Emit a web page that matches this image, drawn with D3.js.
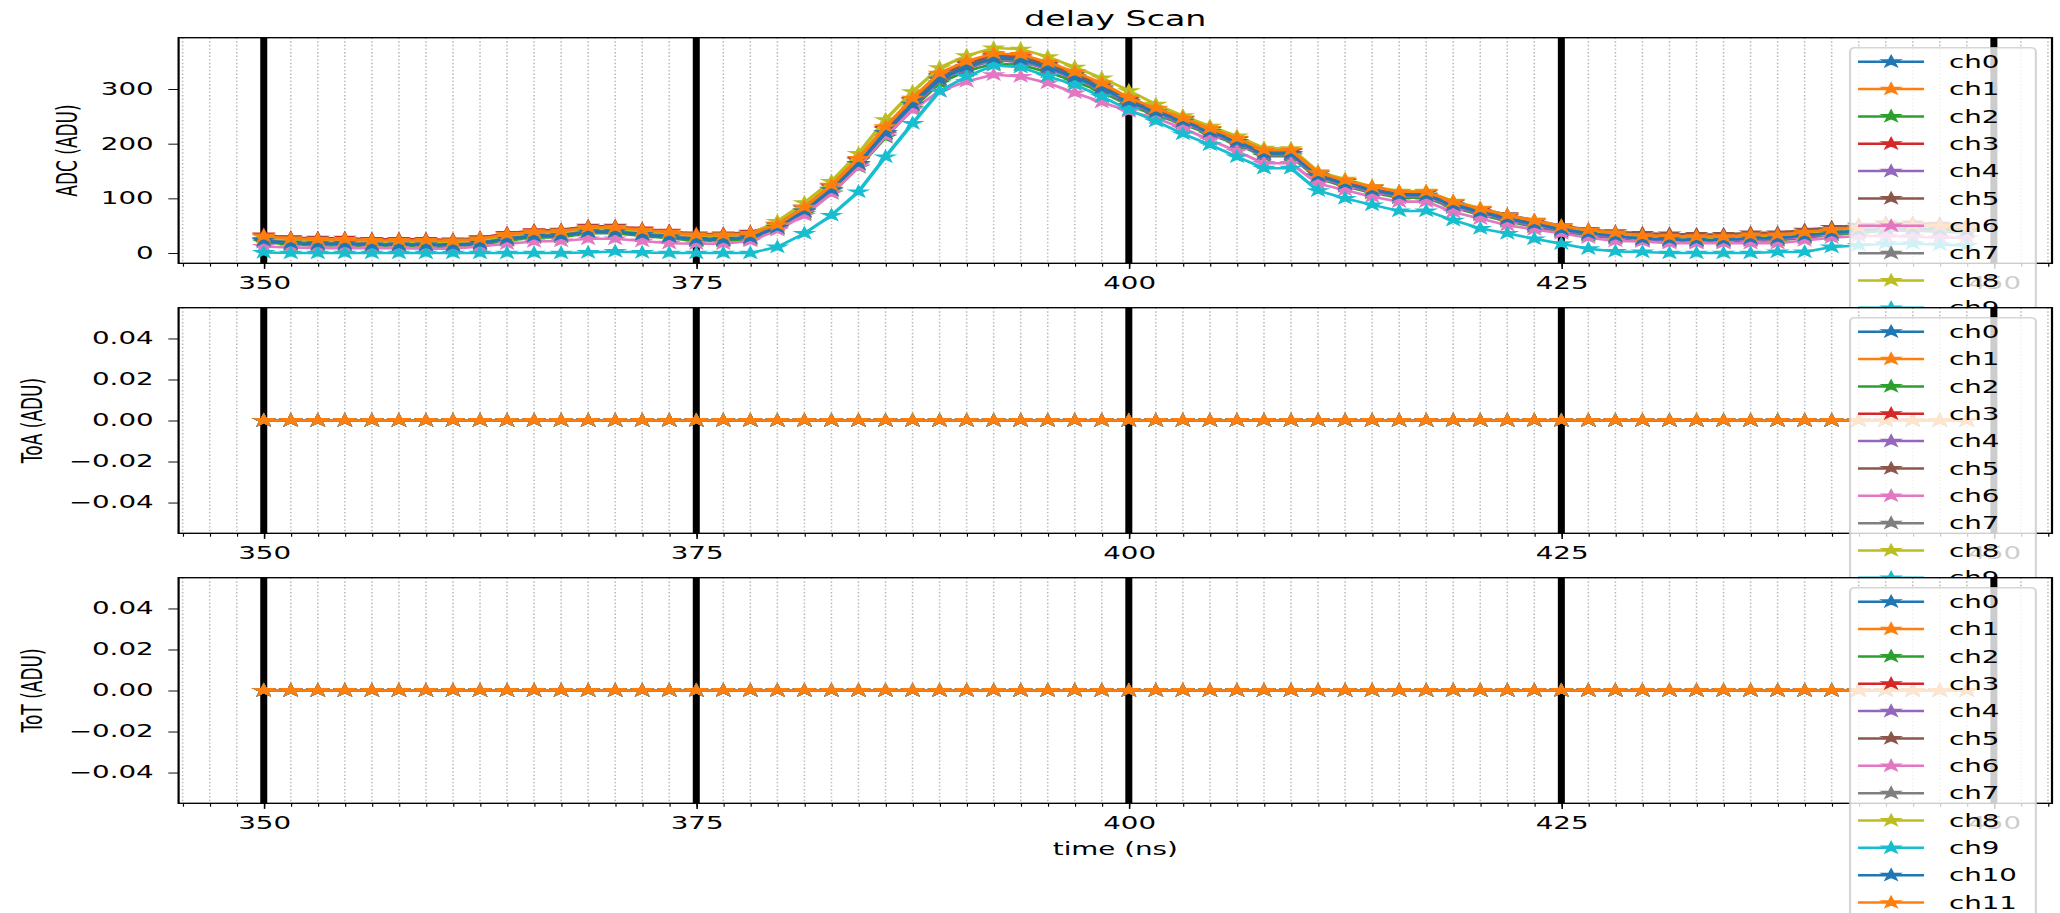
<!DOCTYPE html>
<html>
<head>
<meta charset="utf-8">
<script src="https://cdn.jsdelivr.net/npm/d3@7"></script>
<style>html,body{margin:0;padding:0;background:#fff;overflow:hidden}</style>
</head>
<body>
<svg id="chart" width="2060" height="913"></svg>
<script>
// ---------------- data ----------------
const times = [350, 351.5625, 353.125, 354.6875, 356.25, 357.8125, 359.375, 360.9375, 362.5, 364.0625, 365.625, 367.1875, 368.75, 370.3125, 371.875, 373.4375,
  375, 376.5625, 378.125, 379.6875, 381.25, 382.8125, 384.375, 385.9375, 387.5, 389.0625, 390.625, 392.1875, 393.75, 395.3125, 396.875, 398.4375,
  400, 401.5625, 403.125, 404.6875, 406.25, 407.8125, 409.375, 410.9375, 412.5, 414.0625, 415.625, 417.1875, 418.75, 420.3125, 421.875, 423.4375,
  425, 426.5625, 428.125, 429.6875, 431.25, 432.8125, 434.375, 435.9375, 437.5, 439.0625, 440.625, 442.1875, 443.75, 445.3125, 446.875, 448.4375];

const channels = ["ch0","ch1","ch2","ch3","ch4","ch5","ch6","ch7","ch8","ch9","ch10","ch11"];
const colors = ["#1f77b4","#ff7f0e","#2ca02c","#d62728","#9467bd","#8c564b","#e377c2","#7f7f7f","#bcbd22","#17becf","#1f77b4","#ff7f0e"];

const adcCh0 = [22,17,16,16,14,14,14,13,17,25,30,31,38,38,33,29,24,24,27, 46,76,115,163,219,271,317,340,354,352,339,321,301,276,257, 240,221,203,181,181,140,126,114,105,105,87,74,62,52,43,36,31, 26,25,24,24,27,27,32,37,41,45,45,43,41];
const adcCh1 = [30,25,24,24,22,22,22,21,25,33,38,39,46,46,41,37,32,32,35, 51,83,123,172,229,281,327,349,363,361,347,329,309,282,263, 246,227,209,187,187,146,132,120,111,111,93,80,68,58,48,41,36, 31,30,29,29,32,32,37,42,46,50,50,48,46];
const adcCh2 = [20,15,14,14,12,12,12,11,15,23,28,29,36,36,31,27,22,22,25, 44,72,110,157,212,265,311,333,346,344,331,314,295,270,252, 236,217,199,177,177,136,122,110,101,101,83,70,58,48,39,32,27, 22,21,20,20,23,23,28,33,37,41,41,39,37];
const adcCh3 = [33,28,27,27,25,25,25,24,28,36,41,42,49,49,44,40,35,35,38, 53,84,123,171,228,280,325,348,361,359,346,328,308,282,263, 245,226,208,186,186,145,131,119,110,110,92,79,67,57,47,40,35, 31,30,29,29,32,32,37,42,46,50,50,48,46];
const adcCh4 = [24,19,18,18,16,16,16,15,19,27,32,33,40,40,35,31,26,26,29, 46,75,114,161,217,269,316,338,352,350,337,319,299,274,255, 238,219,201,179,179,138,124,112,103,103,85,72,60,50,41,34,29, 24,23,22,22,25,25,30,35,39,43,43,41,39];
const adcCh5 = [32,27,26,25,24,24,24,23,27,35,40,41,48,48,43,39,34,34,37, 51,82,121,169,226,278,323,346,359,357,344,326,306,280,261, 246,227,209,187,187,146,133,121,112,112,94,81,70,60,50,43,39, 36,35,34,34,37,37,42,47,51,55,55,53,51];
const adcCh6 = [12,10,9,9,9,9,8,8,12,17,21,22,26,26,22,18,17,17,22, 42,69,109,158,214,262,296,314,326,323,311,293,276,259,247, 228,207,186,164,164,127,115,103,94,94,75,63,51,43,36,28,22, 21,18,18,18,18,18,23,28,31,31,30,28,28];
const adcCh7 = [25,20,19,19,17,17,17,16,20,28,33,34,41,41,36,32,27,27,30, 48,78,117,164,220,272,319,341,355,353,340,322,302,277,258, 241,222,204,182,182,141,127,115,106,106,88,75,63,53,44,37,32, 27,26,25,25,28,28,33,38,42,46,46,44,42];
const adcCh8 = [29,24,23,23,21,21,21,20,24,32,37,38,45,45,40,36,31,31,35, 58,92,131,182,244,295,339,361,375,373,359,340,320,297,272, 251,232,214,192,191,149,135,122,113,113,95,82,69,59,49,41,35, 29,28,27,27,30,30,35,40,44,48,48,46,44];
const adcCh9 = [1,0,0,0,0,0,0,0,0,0,0,0,1,3,1,0,0,0,0, 11,36,69,112,176,237,296,323,343,340,323,308,286,262,241, 218,198,176,155,155,114,100,88,77,77,60,45,36,26,17,8,3, 2,0,0,0,0,2,2,11,14,17,17,15,14];
const adcCh10 = [23,18,17,17,15,15,15,14,18,26,31,32,39,39,34,30,25,25,28, 47,77,116,164,220,272,318,341,356,354,340,322,302,277,258, 241,222,204,182,182,141,127,115,106,106,88,75,63,53,43,36,31, 26,25,24,24,27,27,32,37,41,45,45,43,41];
const adcCh11 = [31,26,25,25,23,23,23,22,26,34,39,40,47,47,42,38,33,33,36, 52,84,124,173,231,283,329,351,365,363,349,331,311,284,265, 247,228,210,188,188,147,133,121,112,112,94,81,69,59,49,42,37, 32,31,30,30,33,33,38,43,47,51,51,49,47];

const toaValues = [0,0,0,0,0,0,0,0,0,0,0,0,0,0,0,0, 0,0,0,0,0,0,0,0,0,0,0,0,0,0,0,0, 0,0,0,0,0,0,0,0,0,0,0,0,0,0,0,0, 0,0,0,0,0,0,0,0,0,0,0,0,0,0,0,0];
const totValues = [0,0,0,0,0,0,0,0,0,0,0,0,0,0,0,0, 0,0,0,0,0,0,0,0,0,0,0,0,0,0,0,0, 0,0,0,0,0,0,0,0,0,0,0,0,0,0,0,0, 0,0,0,0,0,0,0,0,0,0,0,0,0,0,0,0];

const xMajorTicks = [350, 375, 400, 425, 450];
const xMinorStep = 1.5625;
const adcTicks = [0, 100, 200, 300];
const toaTicks = [-0.04, -0.02, 0, 0.02, 0.04];
const totTicks = [-0.04, -0.02, 0, 0.02, 0.04];
const yLabels = ["ADC (ADU)", "ToA (ADU)", "ToT (ADU)"];
const titleText = "delay Scan";
const xLabelText = "time (ns)";

// ---------------- layout ----------------
const W = 2060, H = 913;
const SX = 1.63;              // horizontal stretch of the original figure
const VW = W / SX;
const PT = 1.69;              // px per point (vertical)
const FONT = "DejaVu Sans";
const FS = 17;
const axLeft = 178.6 / SX, axRight = 2052 / SX;
const panelTops = [37.7, 307.7, 577.7];
const panelH = 225.6;

const svg = d3.select("#chart")
  .attr("viewBox", `0 0 ${VW} ${H}`)
  .attr("preserveAspectRatio", "none");
svg.append("rect").attr("width", VW).attr("height", H).attr("fill", "#fff");

const xr = d3.max(times) - d3.min(times);
const xs = d3.scaleLinear()
  .domain([d3.min(times) - 0.05 * xr, d3.max(times) + 0.05 * xr])
  .range([axLeft, axRight]);
const [xd0, xd1] = xs.domain();
const minorTicks = d3.range(-4, 70).map(n => 350 + n * xMinorStep).filter(v => v >= xd0 && v <= xd1);
const majorTicks = xMajorTicks.filter(v => v >= xd0 && v <= xd1);

const adcSeries = [adcCh0, adcCh1, adcCh2, adcCh3, adcCh4, adcCh5, adcCh6, adcCh7, adcCh8, adcCh9, adcCh10, adcCh11];
const toaSeries = channels.map(() => toaValues);
const totSeries = channels.map(() => totValues);

const panels = [
  {series: adcSeries, ticks: adcTicks, fmt: d3.format("d"), label: yLabels[0], labelX: 47.5},
  {series: toaSeries, ticks: toaTicks, fmt: d3.format(".2f"), label: yLabels[1], labelX: 26},
  {series: totSeries, ticks: totTicks, fmt: d3.format(".2f"), label: yLabels[2], labelX: 26}
];

const star = d3.symbol(d3.symbolStar, (3 * PT) * (3 * PT) / 0.8908130915292852);
const markerEdge = 1.0 * PT;

panels.forEach((p, pi) => {
  const top = panelTops[pi], bottom = top + panelH;
  const all = p.series.flat();
  let lo = d3.min(all), hi = d3.max(all);
  if (lo === hi) { lo -= 0.05; hi += 0.05; }
  const yr = hi - lo;
  const ys = d3.scaleLinear().domain([lo - 0.05 * yr, hi + 0.05 * yr]).range([bottom, top]);

  const g = svg.append("g");
  g.append("rect").attr("x", axLeft).attr("y", top).attr("width", axRight - axLeft).attr("height", panelH).attr("fill", "#fff");

  // minor dotted grid
  g.append("g").selectAll("line").data(minorTicks).join("line")
    .attr("x1", d => xs(d)).attr("x2", d => xs(d)).attr("y1", top).attr("y2", bottom)
    .attr("stroke", "#b8b8b8").attr("stroke-width", 0.8 * PT * 0.7)
    .attr("stroke-dasharray", `${0.8 * PT} ${1.32 * PT}`);
  // major thick grid
  g.append("g").selectAll("line").data(majorTicks).join("line")
    .attr("x1", d => xs(d)).attr("x2", d => xs(d)).attr("y1", top).attr("y2", bottom)
    .attr("stroke", "#000").attr("stroke-width", 4.3);

  // series
  const line = d3.line().x((d, i) => xs(times[i])).y(d => ys(d));
  p.series.forEach((vals, ci) => {
    const cg = g.append("g");
    cg.append("path").datum(vals).attr("d", line).attr("fill", "none")
      .attr("stroke", colors[ci]).attr("stroke-width", 1.5 * PT).attr("stroke-linejoin", "round");
    cg.selectAll("path.m").data(vals).join("path").attr("class", "m")
      .attr("d", star).attr("transform", (d, i) => `translate(${xs(times[i])},${ys(d)})`)
      .attr("fill", colors[ci]).attr("stroke", colors[ci]).attr("stroke-width", markerEdge)
      .attr("stroke-linejoin", "miter");
  });

  // spines
  g.append("rect").attr("x", axLeft).attr("y", top).attr("width", axRight - axLeft).attr("height", panelH)
    .attr("fill", "none").attr("stroke", "#000").attr("stroke-width", 0.8 * PT);

  // x axis
  const xa = g.append("g").attr("transform", `translate(0,${bottom})`)
    .call(d3.axisBottom(xs).tickValues(majorTicks).tickSize(5.6).tickPadding(8).tickFormat(d3.format("d")));
  const xm = g.append("g").attr("transform", `translate(0,${bottom})`)
    .call(d3.axisBottom(xs).tickValues(minorTicks).tickSize(3.4).tickFormat(""));
  // y axis
  const ya = g.append("g").attr("transform", `translate(${axLeft},0)`)
    .call(d3.axisLeft(ys).tickValues(p.ticks).tickSize(6.3).tickPadding(9).tickFormat(p.fmt));
  [xa, xm, ya].forEach(a => {
    a.select(".domain").remove();
    a.attr("font-family", FONT).attr("font-size", FS);
    a.selectAll("line").attr("stroke", "#000").attr("stroke-width", 0.8 * PT * 0.7);
    a.selectAll("text").attr("fill", "#000");
  });
  xm.selectAll("line").attr("stroke-width", 0.6 * PT * 0.7);

  // y label
  g.append("text").attr("transform", `translate(${p.labelX},${top + panelH / 2}) rotate(-90)`)
    .attr("text-anchor", "middle").attr("font-family", FONT).attr("font-size", FS).attr("fill", "#000")
    .text(p.label);

  // legend
  const lgX = 1135, lgY = top + 10, lgW = 114, rowH = 27.35;
  const lg = g.append("g");
  lg.append("rect").attr("x", lgX).attr("y", lgY).attr("width", lgW).attr("height", 14 + rowH * (channels.length - 1) + 14)
    .attr("rx", 2.5).attr("ry", 4)
    .attr("fill", "#fff").attr("fill-opacity", 0.8)
    .attr("stroke", "#cccccc").attr("stroke-opacity", 0.8).attr("stroke-width", 0.8 * PT);
  channels.forEach((name, ci) => {
    const yy = lgY + 14 + ci * rowH;
    lg.append("line").attr("x1", 1139.9).attr("x2", 1180.4).attr("y1", yy).attr("y2", yy)
      .attr("stroke", colors[ci]).attr("stroke-width", 1.5 * PT);
    lg.append("path").attr("d", star).attr("transform", `translate(${1160.2},${yy})`)
      .attr("fill", colors[ci]).attr("stroke", colors[ci]).attr("stroke-width", markerEdge);
    lg.append("text").attr("x", 1195.7).attr("y", yy + 6.2)
      .attr("font-family", FONT).attr("font-size", FS).attr("fill", "#000").text(name);
  });
});

// title and x label
svg.append("text").attr("x", (axLeft + axRight) / 2).attr("y", 26.5).attr("text-anchor", "middle")
  .attr("font-family", FONT).attr("font-size", 20.4).attr("fill", "#000").text(titleText);
svg.append("text").attr("x", (axLeft + axRight) / 2).attr("y", 855).attr("text-anchor", "middle")
  .attr("font-family", FONT).attr("font-size", FS).attr("fill", "#000").text(xLabelText);
</script>
</body>
</html>
